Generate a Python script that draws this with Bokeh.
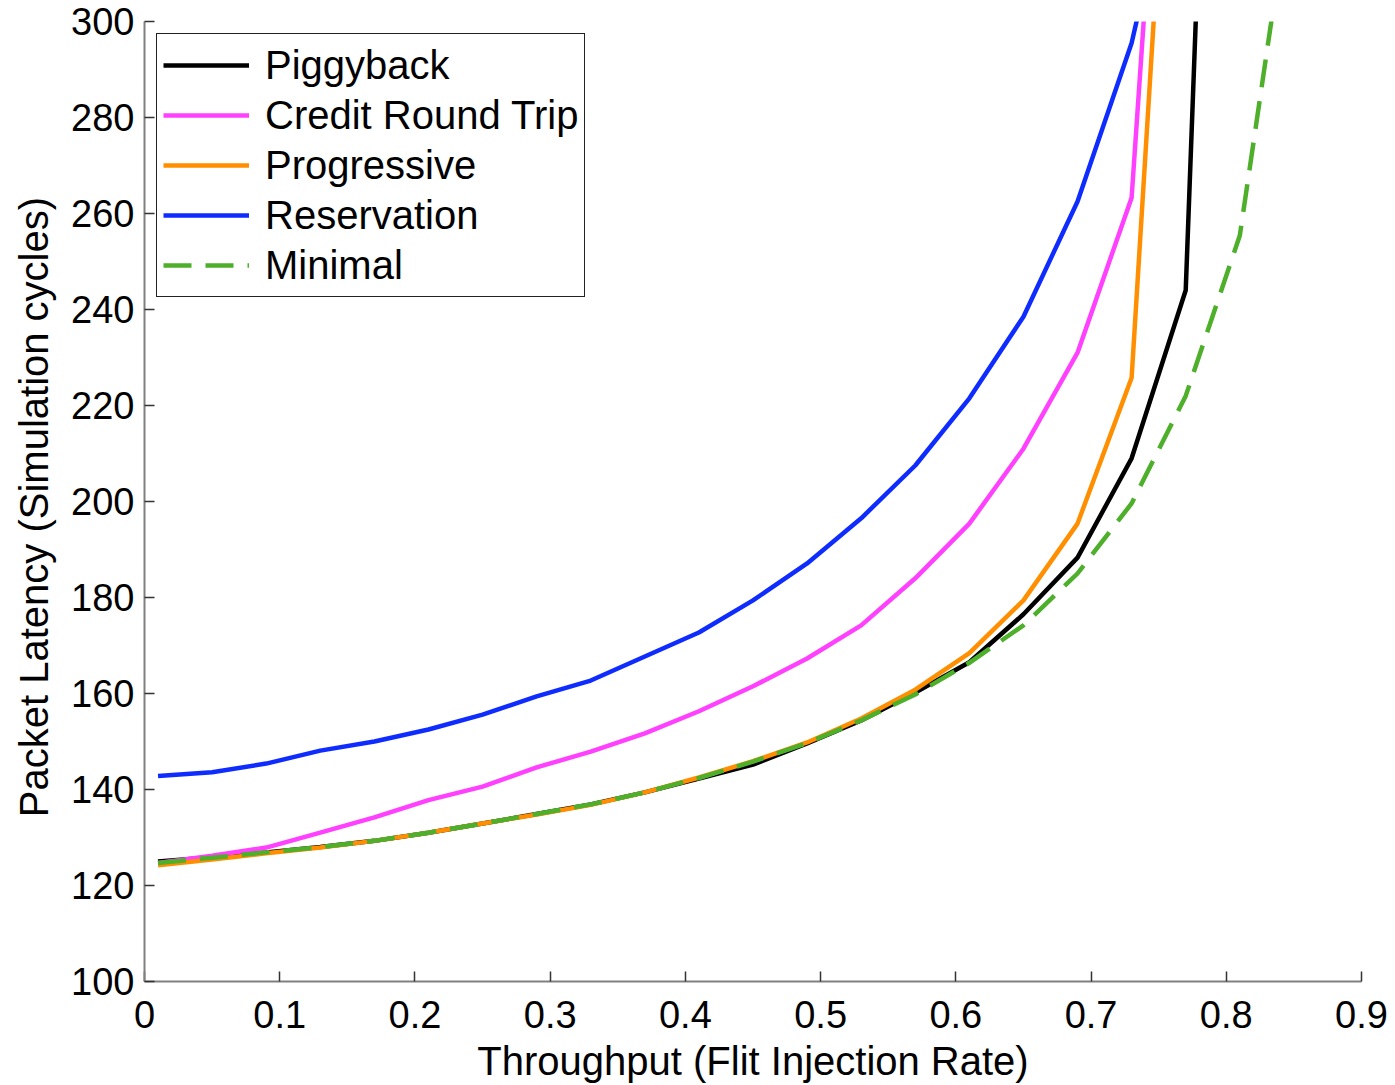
from bokeh.plotting import figure
from bokeh.models import Range1d, FixedTicker, Legend, LegendItem
from bokeh.embed import file_html
from bokeh.resources import INLINE

# ---- data ----
x_piggy = [0.01, 0.05, 0.09, 0.13, 0.17, 0.21, 0.25, 0.29, 0.33, 0.37, 0.41,
           0.45, 0.49, 0.53, 0.57, 0.61, 0.65, 0.69, 0.73, 0.77, 0.81]
y_piggy = [125.0, 125.9, 126.9, 128.0, 129.3, 131.0, 132.9, 134.9, 136.9, 139.4, 142.3,
           145.2, 149.6, 154.4, 160.2, 166.5, 176.5, 188.3, 209.0, 244.0, 546.0]

x_credit = [0.01, 0.05, 0.09, 0.13, 0.17, 0.21, 0.25, 0.29, 0.33, 0.37, 0.41,
            0.45, 0.49, 0.53, 0.57, 0.61, 0.65, 0.69, 0.73, 0.77]
y_credit = [124.7, 126.2, 127.9, 131.0, 134.2, 137.8, 140.6, 144.6, 147.9, 151.7, 156.3,
            161.5, 167.3, 174.2, 184.0, 195.4, 211.0, 231.0, 263.3, 428.0]

x_prog = [0.01, 0.05, 0.09, 0.13, 0.17, 0.21, 0.25, 0.29, 0.33, 0.37, 0.41,
          0.45, 0.49, 0.53, 0.57, 0.61, 0.65, 0.69, 0.73, 0.77]
y_prog = [124.2, 125.4, 126.7, 127.9, 129.3, 131.0, 132.9, 134.8, 136.8, 139.4, 142.5,
          145.9, 149.8, 154.8, 160.8, 168.4, 179.4, 195.4, 225.8, 408.0]

x_res = [0.01, 0.05, 0.09, 0.13, 0.17, 0.21, 0.25, 0.29, 0.33, 0.37, 0.41,
         0.45, 0.49, 0.53, 0.57, 0.61, 0.65, 0.69, 0.73, 0.77]
y_res = [142.8, 143.6, 145.4, 148.1, 150.0, 152.5, 155.6, 159.4, 162.7, 167.7, 172.7,
         179.4, 187.1, 196.5, 207.5, 221.5, 238.5, 262.5, 295.5, 345.0]

x_min = [0.01, 0.05, 0.09, 0.13, 0.17, 0.21, 0.25, 0.29, 0.33, 0.37, 0.41,
         0.45, 0.49, 0.53, 0.57, 0.61, 0.65, 0.69, 0.73, 0.77, 0.81, 0.85]
y_min = [124.7, 125.8, 126.9, 128.0, 129.3, 131.0, 132.9, 134.9, 136.9, 139.4, 142.4,
         145.8, 149.7, 154.4, 159.8, 166.4, 174.2, 185.0, 199.6, 222.0, 255.4, 332.0]

x_ticks = [0, 0.1, 0.2, 0.3, 0.4, 0.5, 0.6, 0.7, 0.8, 0.9]
x_tick_labels = ["0", "0.1", "0.2", "0.3", "0.4", "0.5", "0.6", "0.7", "0.8", "0.9"]
y_ticks = [100, 120, 140, 160, 180, 200, 220, 240, 260, 280, 300]

FONT = "Liberation Sans"

p = figure(width=1395, height=1085, output_backend="svg", toolbar_location=None,
           x_range=Range1d(0, 0.9), y_range=Range1d(100, 300))
p.min_border_left = 144
p.min_border_right = 34
p.min_border_top = 21
p.min_border_bottom = 104
p.outline_line_color = None
p.grid.visible = False
p.background_fill_color = "white"
p.border_fill_color = "white"

p.xaxis.ticker = FixedTicker(ticks=x_ticks)
p.xaxis.major_label_overrides = dict(zip(x_ticks, x_tick_labels))
p.yaxis.ticker = FixedTicker(ticks=y_ticks)

for ax in (p.xaxis[0], p.yaxis[0]):
    ax.axis_line_color = "#808080"
    ax.axis_line_width = 2
    ax.major_tick_line_color = "#333333"
    ax.major_tick_line_width = 1.5
    ax.major_tick_in = 10
    ax.major_tick_out = 0
    ax.minor_tick_line_color = None
    ax.major_label_text_font = FONT
    ax.major_label_text_font_size = "38px"
    ax.major_label_text_color = "black"
    ax.axis_label_text_font = FONT
    ax.axis_label_text_font_size = "40px"
    ax.axis_label_text_font_style = "normal"
    ax.axis_label_text_color = "black"

p.xaxis.axis_label = "Throughput (Flit Injection Rate)"
p.yaxis.axis_label = "Packet Latency  (Simulation cycles)"
p.xaxis.major_label_standoff = 19
p.xaxis.axis_label_standoff = 8
p.yaxis.major_label_standoff = 10
p.yaxis.axis_label_standoff = 12

LW = 4.5
r_p = p.line(x_piggy, y_piggy, line_color="black", line_width=LW)
r_c = p.line(x_credit, y_credit, line_color="#FF40FF", line_width=LW)
r_o = p.line(x_prog, y_prog, line_color="#FF8F00", line_width=LW)
r_r = p.line(x_res, y_res, line_color="#0F2CFF", line_width=LW)
r_m = p.line(x_min, y_min, line_color="#4DAF2A", line_width=LW, line_dash="28 14")

legend = Legend(items=[
    LegendItem(label="Piggyback", renderers=[r_p]),
    LegendItem(label="Credit Round Trip", renderers=[r_c]),
    LegendItem(label="Progressive", renderers=[r_o]),
    LegendItem(label="Reservation", renderers=[r_r]),
    LegendItem(label="Minimal", renderers=[r_m]),
], location="top_left")
legend.margin = 12
legend.padding = 6
legend.spacing = 0
legend.glyph_width = 86
legend.glyph_height = 50
legend.label_height = 50
legend.label_standoff = 16
legend.label_text_font = FONT
legend.label_text_font_size = "40px"
legend.label_text_color = "black"
legend.border_line_color = "#222222"
legend.border_line_alpha = 1.0
legend.border_line_width = 1.5
legend.background_fill_color = "white"
legend.background_fill_alpha = 1.0
p.add_layout(legend)

open("out.html", "w").write(file_html(p, INLINE))
